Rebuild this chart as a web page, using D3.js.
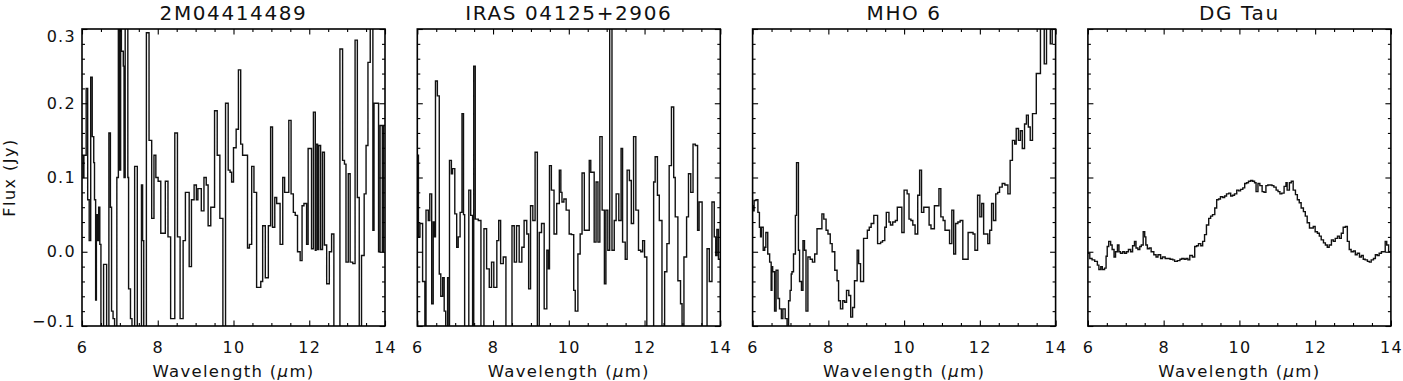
<!DOCTYPE html>
<html><head><meta charset="utf-8">
<script src="https://cdn.jsdelivr.net/npm/d3@7"></script>
<style>
body{margin:0;background:#fff}
svg text{font-family:"DejaVu Sans",sans-serif;fill:#111}
</style></head>
<body><svg id="c" width="1403" height="381"></svg>
<script>
// Panel titles
const titles = ["2M04414489", "IRAS 04125+2906", "MHO 6", "DG Tau"];
// Axis ticks
const xMajorTicks = [6, 8, 10, 12, 14];
const yMajorTicks = [-0.1, 0.0, 0.1, 0.2, 0.3];
const yTickLabels = ["\u22120.1", "0.0", "0.1", "0.2", "0.3"];

// Spectra: bin start wavelength (um) and flux (Jy)
const wave1 = [6.00,6.03,6.05,6.11,6.15,6.19,6.23,6.27,6.31,6.33,6.36,6.38,6.41,6.44,6.47,6.50,6.57,6.65,6.71,6.75,6.78,6.82,6.86,6.92,6.96,6.99,7.02,7.04,7.09,7.11,7.14,7.21,7.23,7.28,7.32,7.39,7.46,7.57,7.60,7.63,7.70,7.77,7.84,7.90,7.95,8.01,8.08,8.20,8.27,8.34,8.45,8.52,8.59,8.67,8.73,8.83,8.89,8.96,9.02,9.06,9.15,9.22,9.28,9.33,9.40,9.50,9.57,9.64,9.72,9.79,9.86,9.91,9.95,10.00,10.07,10.13,10.19,10.24,10.37,10.42,10.48,10.54,10.61,10.72,10.77,10.84,10.92,10.98,11.03,11.09,11.14,11.23,11.30,11.35,11.46,11.52,11.58,11.63,11.69,11.76,11.81,11.86,11.93,11.97,12.06,12.11,12.16,12.18,12.22,12.25,12.30,12.35,12.40,12.46,12.53,12.59,12.65,12.81,12.88,12.93,12.97,13.03,13.08,13.15,13.21,13.27,13.32,13.38,13.45,13.50,13.55,13.61,13.68,13.71,13.78,13.83,13.87,13.93,13.96];
const flux1 = [0.13,0.10,0.13,0.22,0.07,0.015,0.235,0.155,0.12,0.07,-0.065,0.05,0.015,0.06,0.01,-0.15,-0.017,-0.15,0.16,0.06,-0.08,-0.09,-0.15,0.10,0.35,0.11,0.35,0.27,0.25,0.10,0.35,0.10,-0.05,-0.09,-0.15,0.115,-0.15,0.09,0.015,-0.15,0.295,0.15,0.045,0.13,0.10,0.095,0.025,0.095,0.02,-0.09,0.16,0.02,-0.09,0.015,0.08,-0.02,0.07,0.09,0.07,0.085,0.055,0.10,0.09,0.035,0.06,0.19,0.13,0.045,-0.15,0.20,0.11,0.107,0.094,0.14,0.165,0.245,0.145,0.13,0.005,0.01,0.115,0.08,-0.048,-0.04,0.035,-0.035,0.035,0.168,0.033,0.073,0.065,0.01,0.10,0.08,0.177,0.078,0.053,0.049,0.0,-0.012,0.062,0.065,0.01,0.139,0.004,0.188,0.002,0.145,0.003,0.143,0.003,0.134,0.009,-0.043,0.0,0.024,-0.15,0.273,0.123,0.118,-0.014,0.105,-0.014,-0.016,0.285,0.073,-0.15,-0.005,0.078,0.143,0.255,0.35,0.029,0.20,0.20,0.0,0.17,0.0,0.17];

const wave2 = [6.00,6.03,6.07,6.14,6.20,6.23,6.29,6.33,6.38,6.42,6.45,6.48,6.53,6.58,6.62,6.67,6.71,6.75,6.80,6.84,6.85,6.90,6.93,6.99,7.04,7.08,7.13,7.18,7.22,7.25,7.36,7.41,7.46,7.49,7.53,7.61,7.68,7.76,7.83,7.90,7.96,8.02,8.10,8.15,8.20,8.27,8.34,8.50,8.56,8.62,8.69,8.76,8.82,8.89,8.94,8.99,9.05,9.11,9.17,9.22,9.28,9.35,9.42,9.46,9.49,9.54,9.61,9.68,9.75,9.79,9.82,9.87,9.93,10.01,10.07,10.13,10.17,10.24,10.30,10.35,10.41,10.54,10.58,10.67,10.72,10.77,10.82,10.88,10.94,10.98,11.03,11.08,11.14,11.20,11.25,11.32,11.38,11.42,11.49,11.54,11.60,11.65,11.71,11.77,11.84,11.90,11.95,12.00,12.06,12.24,12.28,12.34,12.39,12.46,12.53,12.59,12.65,12.71,12.77,12.81,12.88,12.95,12.99,13.04,13.11,13.16,13.22,13.28,13.34,13.40,13.44,13.52,13.65,13.71,13.78,13.84,13.88,13.91,13.95];
const flux2 = [0.13,0.02,0.038,-0.04,-0.15,0.056,0.042,0.078,-0.07,0.04,0.02,0.23,0.21,-0.03,-0.06,-0.035,-0.08,-0.15,-0.035,-0.15,0.123,0.105,0.112,0.051,0.006,0.02,0.053,0.186,0.05,-0.15,0.083,0.049,-0.15,0.25,0.044,0.042,-0.15,0.031,-0.023,-0.048,-0.014,-0.048,0.015,0.042,-0.016,-0.007,-0.15,0.035,-0.014,0.035,-0.014,0.006,0.042,0.024,-0.05,0.062,0.042,0.134,-0.15,0.026,0.038,-0.077,0.002,-0.023,0.116,0.083,0.024,0.065,0.11,0.08,0.067,0.071,0.056,0.024,0.023,-0.052,-0.08,-0.003,0.024,0.106,0.029,0.123,0.107,0.013,0.094,0.013,0.155,0.056,-0.043,0.056,0.002,0.35,0.002,0.042,0.078,0.042,0.139,0.013,-0.01,0.11,0.096,0.038,0.155,0.056,0.002,0.0,0.015,-0.007,-0.15,0.094,0.128,0.076,0.042,-0.15,-0.027,0.011,0.116,0.195,0.10,0.047,-0.039,-0.07,-0.15,-0.007,0.047,0.105,0.08,0.145,0.143,0.029,0.067,-0.15,0.004,-0.04,0.067,0.02,-0.005,0.03,-0.01];

const wave3 = [6.00,6.02,6.04,6.09,6.14,6.18,6.21,6.23,6.28,6.32,6.35,6.40,6.45,6.49,6.51,6.53,6.58,6.62,6.67,6.71,6.76,6.80,6.86,6.91,6.95,6.99,7.02,7.04,7.08,7.13,7.16,7.21,7.24,7.29,7.33,7.37,7.41,7.46,7.52,7.58,7.64,7.70,7.83,7.88,7.94,7.99,8.05,8.10,8.17,8.23,8.27,8.32,8.38,8.43,8.48,8.54,8.59,8.64,8.69,8.76,8.80,8.85,8.93,9.03,9.08,9.13,9.20,9.30,9.38,9.43,9.49,9.53,9.60,9.64,9.70,9.77,9.82,9.94,10.00,10.08,10.13,10.18,10.23,10.29,10.36,10.41,10.46,10.52,10.66,10.71,10.80,10.92,10.97,11.03,11.08,11.20,11.26,11.31,11.36,11.42,11.48,11.55,11.69,11.82,11.87,11.94,12.00,12.05,12.10,12.21,12.26,12.31,12.36,12.42,12.47,12.52,12.59,12.66,12.74,12.80,12.86,12.92,12.96,13.02,13.07,13.12,13.18,13.23,13.28,13.33,13.39,13.49,13.60,13.70,13.76,13.86,13.91];
const flux3 = [0.062,0.055,0.069,0.07,0.053,0.033,0.02,0.033,0.002,0.006,0.026,-0.003,-0.014,-0.052,-0.02,-0.027,-0.08,-0.025,-0.063,-0.077,-0.09,-0.077,-0.09,-0.105,-0.066,-0.052,-0.03,-0.027,-0.003,0.049,0.12,0.002,-0.04,-0.052,0.015,0.002,-0.08,-0.007,-0.01,-0.014,-0.003,0.031,0.051,0.044,0.029,0.024,0.011,0.0,-0.025,-0.039,-0.066,-0.077,-0.066,-0.068,-0.052,-0.059,-0.088,-0.075,-0.039,0.002,-0.016,-0.04,0.018,0.029,0.033,0.038,0.049,0.011,0.013,0.015,0.033,0.053,0.04,0.036,0.04,0.042,0.06,0.026,0.083,0.078,0.044,0.042,0.036,0.024,0.076,0.11,0.053,0.06,0.036,0.031,0.062,0.085,0.047,0.042,0.029,0.011,0.056,-0.003,0.038,0.04,0.042,-0.01,0.026,0.024,0.002,0.076,0.047,0.065,0.024,0.011,0.029,0.065,0.042,0.078,0.08,0.087,0.092,0.09,0.078,0.123,0.15,0.145,0.166,0.15,0.163,0.139,0.172,0.184,0.168,0.15,0.186,0.24,0.35,0.253,0.35,0.28,0.35];

const wave4 = [6.00,6.05,6.11,6.18,6.25,6.29,6.34,6.38,6.44,6.48,6.51,6.55,6.60,6.64,6.69,6.73,6.78,6.82,6.86,6.92,6.97,7.02,7.07,7.13,7.18,7.23,7.27,7.32,7.37,7.41,7.46,7.50,7.53,7.57,7.62,7.67,7.74,7.80,7.85,7.92,7.97,8.04,8.10,8.17,8.24,8.29,8.36,8.43,8.48,8.54,8.59,8.64,8.69,8.76,8.82,8.87,8.92,8.98,9.03,9.08,9.13,9.19,9.24,9.29,9.35,9.40,9.45,9.50,9.56,9.61,9.66,9.72,9.77,9.82,9.87,9.93,9.98,10.03,10.09,10.14,10.19,10.24,10.30,10.35,10.40,10.44,10.49,10.54,10.60,10.65,10.70,10.75,10.81,10.86,10.91,10.97,11.02,11.07,11.12,11.18,11.23,11.26,11.32,11.37,11.42,11.48,11.53,11.58,11.63,11.69,11.74,11.79,11.85,11.90,11.95,12.00,12.06,12.11,12.16,12.22,12.27,12.32,12.37,12.43,12.48,12.53,12.59,12.64,12.69,12.74,12.80,12.85,12.90,12.95,13.01,13.06,13.11,13.17,13.22,13.27,13.32,13.38,13.43,13.48,13.54,13.59,13.64,13.69,13.75,13.80,13.85,13.89,13.94];
const flux4 = [-0.002,-0.009,-0.011,-0.013,-0.018,-0.024,-0.02,-0.024,-0.022,-0.006,0.007,0.014,0.009,0.003,-0.007,0.0,0.009,0.0,-0.002,0.0,-0.002,0.0,0.003,0.0,0.008,0.014,0.005,0.003,0.007,0.009,0.027,0.02,0.009,0.004,0.005,0.0,-0.004,-0.007,-0.004,-0.009,-0.007,-0.009,-0.009,-0.01,-0.011,-0.013,-0.012,-0.01,-0.009,-0.01,-0.009,-0.011,-0.005,-0.007,0.007,0.008,0.011,0.008,0.014,0.023,0.036,0.045,0.048,0.05,0.059,0.07,0.071,0.074,0.073,0.075,0.078,0.079,0.075,0.076,0.078,0.083,0.082,0.084,0.086,0.092,0.093,0.095,0.096,0.095,0.093,0.081,0.092,0.089,0.081,0.08,0.089,0.09,0.09,0.089,0.087,0.083,0.081,0.078,0.079,0.088,0.093,0.083,0.093,0.095,0.083,0.077,0.07,0.066,0.059,0.054,0.048,0.039,0.032,0.032,0.034,0.027,0.025,0.021,0.016,0.012,0.009,0.006,0.009,0.016,0.014,0.018,0.021,0.018,0.025,0.033,0.034,0.014,0.003,0.0,0.001,-0.004,-0.002,-0.007,-0.005,-0.01,-0.011,-0.013,-0.014,-0.011,-0.009,-0.004,-0.005,-0.002,0.0,0.0,0.014,0.009,0.0];

const waves = [wave1, wave2, wave3, wave4];
const fluxes = [flux1, flux2, flux3, flux4];

// Layout
const svg = d3.select("#c");
const panelLeft0 = 82, panelStep = 335.3, W = 303, H = 297, topY = 29;
const xDomain = [6, 14], yDomain = [-0.1, 0.3];
const x = d3.scaleLinear().domain(xDomain).range([0, W]);
const y = d3.scaleLinear().domain(yDomain).range([H, 0]);
const xMinor = d3.range(6, 14.001, 0.5).filter(v => !xMajorTicks.some(m => Math.abs(m - v) < 1e-6));
const yMinor = d3.range(-0.1, 0.3001, 0.02).filter(v => !yMajorTicks.some(m => Math.abs(m - v) < 1e-6));
const MAJ = 5.5, MIN = 3;

function styleAxis(g) {
  g.select(".domain").remove();
  g.selectAll(".tick line").attr("stroke", "#000").attr("stroke-width", 1.1);
}

titles.forEach((t, i) => {
  const g = svg.append("g").attr("transform", `translate(${panelLeft0 + i * panelStep},${topY})`);
  const clipId = "clip" + i;
  g.append("clipPath").attr("id", clipId).append("rect").attr("width", W).attr("height", H);

  // data
  const pts = waves[i].map((w, k) => [w, fluxes[i][k]]);
  pts.push([xDomain[1] + 0.05, fluxes[i][fluxes[i].length - 1]]);
  const line = d3.line().x(d => x(d[0])).y(d => y(d[1])).curve(d3.curveStepAfter);
  g.append("path").datum(pts).attr("clip-path", `url(#${clipId})`)
    .attr("d", line).attr("fill", "none").attr("stroke", "#111").attr("stroke-width", 1.4)
    .attr("stroke-linejoin", "miter");

  // axes: bottom
  const bMaj = g.append("g").attr("transform", `translate(0,${H})`)
    .call(d3.axisBottom(x).tickValues(xMajorTicks).tickSize(-MAJ).tickPadding(16).tickFormat(d3.format("d")));
  styleAxis(bMaj);
  bMaj.selectAll("text").style("font-size", "16px").style("letter-spacing", "1.3px");
  styleAxis(g.append("g").attr("transform", `translate(0,${H})`)
    .call(d3.axisBottom(x).tickValues(xMinor).tickSize(-MIN).tickFormat("")));
  // top
  styleAxis(g.append("g").call(d3.axisTop(x).tickValues(xMajorTicks).tickSize(-MAJ).tickFormat("")));
  styleAxis(g.append("g").call(d3.axisTop(x).tickValues(xMinor).tickSize(-MIN).tickFormat("")));
  // left
  const lMaj = g.append("g").call(d3.axisLeft(y).tickValues(yMajorTicks).tickSize(-MAJ).tickPadding(6)
    .tickFormat(i === 0 ? ((d, k) => yTickLabels[k]) : ""));
  styleAxis(lMaj);
  lMaj.selectAll("text").style("font-size", "16px").style("letter-spacing", "1.3px");
  if (i === 0) {
    lMaj.selectAll(".tick").filter(d => d === yDomain[1]).select("text").attr("dy", "0.32em").attr("y", 7);
    lMaj.selectAll(".tick").filter(d => d === yDomain[0]).select("text").attr("dy", "0.32em").attr("y", -4.5);
  }
  styleAxis(g.append("g").call(d3.axisLeft(y).tickValues(yMinor).tickSize(-MIN).tickFormat("")));
  // right
  styleAxis(g.append("g").attr("transform", `translate(${W},0)`)
    .call(d3.axisRight(y).tickValues(yMajorTicks).tickSize(-MAJ).tickFormat("")));
  styleAxis(g.append("g").attr("transform", `translate(${W},0)`)
    .call(d3.axisRight(y).tickValues(yMinor).tickSize(-MIN).tickFormat("")));

  // frame
  g.append("rect").attr("width", W).attr("height", H).attr("fill", "none")
    .attr("stroke", "#000").attr("stroke-width", 1.6);

  // title
  g.append("text").attr("x", W / 2).attr("y", 20 - topY).attr("text-anchor", "middle")
    .style("font-size", "20px").style("letter-spacing", "1.6px").text(t);

  // x label
  const xl = g.append("text").attr("x", W / 2).attr("y", 376.5 - topY).attr("text-anchor", "middle")
    .style("font-size", "16.5px").style("letter-spacing", "1.3px");
  xl.append("tspan").text("Wavelength (");
  xl.append("tspan").style("font-style", "italic").text("\u03BC");
  xl.append("tspan").text("m)");
});

// y label
svg.append("text").attr("transform", `translate(15,${topY + H / 2}) rotate(-90)`)
  .attr("text-anchor", "middle").style("font-size", "16px").style("letter-spacing", "1.5px")
  .text("Flux (Jy)");
</script>
</body></html>
